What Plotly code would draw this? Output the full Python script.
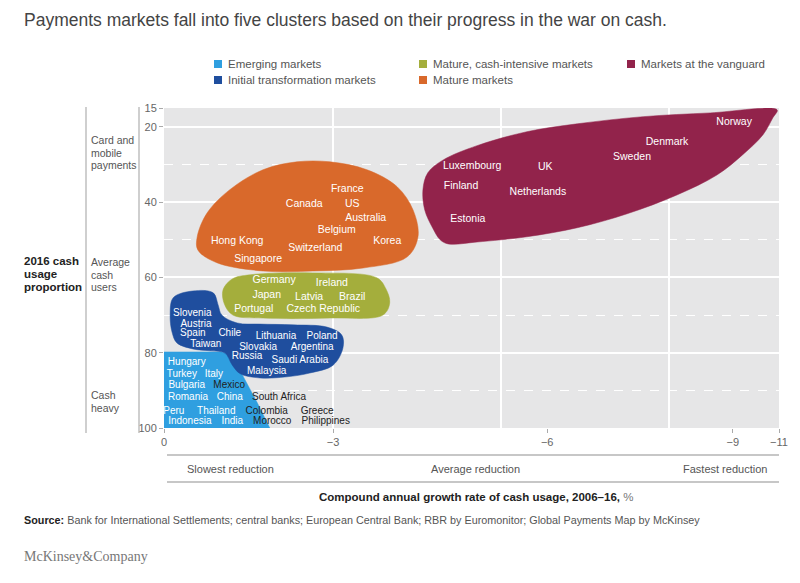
import plotly.graph_objects as go

# ---------------- data ----------------
CLUSTERS = ["Emerging markets", "Initial transformation markets",
            "Mature, cash-intensive markets", "Mature markets", "Markets at the vanguard"]
COLORS = ["#2f9fe0", "#1f4e9e", "#a4ae3c", "#d9692b", "#92234b"]

# x axis: position along the (non-linear) CAGR scale, 0..100 of the axis width
X_TICK_POS = [0, 27.5, 62.3, 92.5, 100]
X_TICK_TEXT = ["0", "\u22123", "\u22126", "\u22129", "\u221211"]
X_GRID_POS = [27.5, 54.8, 82.1]
Y_TICKS = [15, 20, 40, 60, 80, 100]
Y_DASHED = [30, 50, 70, 90]

# cluster outlines (x position, 2016 cash usage proportion)
EMERGING_X = [0, 9.4, 10.4, 11.2, 11.8, 13.2, 15.1, 17.2, 0]
EMERGING_Y = [79.8, 79.8, 80.3, 81.3, 83.0, 87.2, 93.1, 100, 100]

INITIAL_X = [1.5, 4.7, 8.0, 8.8, 9.4, 11.9, 15.6, 21.0, 26.5, 28.9, 29.1, 27.5, 23.7,
             20.0, 15.6, 12.4, 11.1, 9.9, 7.5, 4.7, 2.1, 1.3, 1.0, 1.5]
INITIAL_Y = [65.4, 63.6, 64.1, 67.3, 70.0, 72.1, 72.4, 72.6, 73.2, 75.3, 78.7, 83.3, 85.4,
             86.4, 86.7, 85.6, 83.3, 80.1, 79.5, 79.0, 77.4, 74.5, 70.0, 65.4]

CASHINT_X = [9.6, 11.1, 14.0, 24.2, 34.6, 36.1, 36.7, 35.6, 27.0, 16.1, 11.2, 9.8, 9.6]
CASHINT_Y = [63.3, 60.4, 59.3, 58.8, 60.1, 63.1, 66.8, 70.0, 70.8, 70.8, 70.0, 67.0, 63.3]

MATURE_X = [27.0, 33.0, 37.9, 40.5, 41.3, 39.5, 32.4, 24.2, 16.1, 8.6, 5.5, 5.4, 7.0,
            10.7, 16.1, 21.6, 27.0]
MATURE_Y = [29.3, 31.4, 35.9, 42.1, 49.2, 54.6, 57.5, 58.3, 58.3, 56.1, 52.7, 49.2, 42.9,
            36.7, 31.4, 29.3, 29.3]

VANGUARD_X = [99.7, 88.8, 77.9, 67.2, 59.0, 50.9, 45.4, 42.9, 42.1, 42.4, 43.6, 44.9, 46.2,
              50.9, 59.0, 67.2, 75.3, 83.4, 89.9, 94.1, 97.4, 99.0, 99.7]
VANGUARD_Y = [15.5, 16.3, 17.3, 19.2, 21.3, 25.0, 28.8, 32.2, 36.7, 42.1, 46.6, 50.0, 51.1,
              50.6, 49.2, 46.8, 43.1, 38.1, 32.8, 27.4, 22.1, 17.6, 15.5]

# market labels
EMERGING_NAMES = ["Hungary", "Turkey", "Italy", "Bulgaria", "Mexico", "Romania", "China",
                  "South Africa", "Peru", "Thailand", "Colombia", "Greece", "Indonesia",
                  "India", "Morocco", "Philippines"]
EMERGING_LX = [3.7, 2.9, 8.1, 3.7, 10.6, 3.9, 10.7, 18.7, 1.6, 8.5, 16.7, 24.9, 4.2, 11.1,
               17.6, 26.3]
EMERGING_LY = [82.7, 85.9, 85.9, 88.8, 88.8, 92.0, 92.0, 92.0, 95.5, 95.5, 95.5, 95.5, 98.4,
               98.4, 98.4, 98.4]
DARK_LABELS = ["Mexico", "South Africa", "Colombia", "Greece", "Morocco", "Philippines"]

INITIAL_NAMES = ["Slovenia", "Austria", "Spain", "Chile", "Taiwan", "Lithuania", "Poland",
                 "Slovakia", "Argentina", "Russia", "Saudi Arabia", "Malaysia"]
INITIAL_LX = [4.6, 5.2, 4.7, 10.7, 6.8, 18.2, 25.7, 15.3, 24.1, 13.5, 22.1, 16.7]
INITIAL_LY = [69.7, 72.4, 75.0, 75.0, 77.7, 75.8, 75.8, 78.5, 78.5, 81.1, 82.2, 85.1]

CASHINT_NAMES = ["Germany", "Ireland", "Japan", "Latvia", "Brazil", "Portugal", "Czech Republic"]
CASHINT_LX = [17.9, 27.3, 16.7, 23.6, 30.6, 14.6, 25.9]
CASHINT_LY = [60.9, 61.5, 64.7, 65.2, 65.2, 68.6, 68.6]

MATURE_NAMES = ["France", "Canada", "US", "Australia", "Belgium", "Hong Kong", "Korea",
                "Switzerland", "Singapore"]
MATURE_LX = [29.8, 22.8, 30.6, 32.8, 28.1, 11.9, 36.3, 24.6, 15.3]
MATURE_LY = [36.7, 40.5, 40.7, 44.2, 47.6, 50.3, 50.3, 52.2, 55.3]

VANGUARD_NAMES = ["Norway", "Denmark", "Sweden", "Luxembourg", "UK", "Finland",
                  "Netherlands", "Estonia"]
VANGUARD_LX = [92.7, 81.8, 76.1, 50.1, 62.0, 48.3, 60.8, 49.4]
VANGUARD_LY = [18.9, 24.0, 28.2, 30.6, 30.9, 35.9, 37.5, 44.5]

# ---------------- figure ----------------
FONT = "Liberation Sans, Arial, Helvetica, sans-serif"
OFF = 8                      # page body margin
W, H = 784, 567
L = 164 - OFF
T = 108 - OFF
R = W - (779 - OFF)
B = H - (428 - OFF)


def PX(px):
    return (px - OFF - L) / (W - L - R)


def PY(py):
    return (H - B - (py - OFF)) / (H - T - B)


fig = go.Figure()

outlines = [
    (EMERGING_X, EMERGING_Y, "linear"),
    (INITIAL_X, INITIAL_Y, "spline"),
    (CASHINT_X, CASHINT_Y, "spline"),
    (MATURE_X, MATURE_Y, "spline"),
    (VANGUARD_X, VANGUARD_Y, "spline"),
]
for (xs, ys, shape), name, col in zip(outlines, CLUSTERS, COLORS):
    fig.add_trace(go.Scatter(
        x=xs, y=ys, mode="lines", fill="toself", fillcolor=col,
        line=dict(color=col, width=0.5, shape=shape, smoothing=1.0),
        name=name, showlegend=False, hoverinfo="skip"))

labels = [
    (EMERGING_NAMES, EMERGING_LX, EMERGING_LY, 10),
    (INITIAL_NAMES, INITIAL_LX, INITIAL_LY, 10),
    (CASHINT_NAMES, CASHINT_LX, CASHINT_LY, 10.5),
    (MATURE_NAMES, MATURE_LX, MATURE_LY, 10.5),
    (VANGUARD_NAMES, VANGUARD_LX, VANGUARD_LY, 10.5),
]
for names, lx, ly, fs in labels:
    cols = ["#222222" if n in DARK_LABELS else "white" for n in names]
    fig.add_trace(go.Scatter(
        x=lx, y=ly, mode="text", text=names, textposition="middle center",
        textfont=dict(color=cols, size=fs, family=FONT),
        showlegend=False, hoverinfo="skip", cliponaxis=False))

ann = []
shapes = []


def text(px, py, s, size=11, color="#555", xanchor="left", bold=False, family=FONT):
    ann.append(dict(x=PX(px), y=PY(py), xref="paper", yref="paper",
                    text=("<b>%s</b>" % s) if bold else s, borderpad=0,
                    showarrow=False, xanchor=xanchor, yanchor="middle",
                    font=dict(size=size, color=color, family=family)))


# title
text(23, 20, "Payments markets fall into five clusters based on their progress in the war on cash.",
     size=17.5, color="#444")

# legend
LEG_POS = [(214, 64), (214, 80), (419, 64), (419, 80), (627, 64)]
for (lx, ly), name, col in zip(LEG_POS, CLUSTERS, COLORS):
    shapes.append(dict(type="rect", xref="paper", yref="paper",
                       x0=PX(lx), x1=PX(lx + 8), y0=PY(ly + 4), y1=PY(ly - 4),
                       fillcolor=col, line=dict(width=0)))
    text(lx + 13, ly, name, size=11.5, color="#555")

# y side labels
for i, s in enumerate(["2016 cash", "usage", "proportion"]):
    text(23, 261 + 13 * i, s, size=11.5, color="#222", bold=True)
for i, s in enumerate(["Card and", "mobile", "payments"]):
    text(90, 140 + 12.5 * i, s, size=10.5)
for i, s in enumerate(["Average", "cash", "users"]):
    text(90, 262 + 12.5 * i, s, size=10.5)
for i, s in enumerate(["Cash", "heavy"]):
    text(90, 395 + 12.5 * i, s, size=10.5)
for xx in [86, 139]:
    shapes.append(dict(type="line", xref="paper", yref="paper", x0=PX(xx), x1=PX(xx),
                       y0=PY(107), y1=PY(433), line=dict(color="#b5b5b5", width=1.3)))

# x bottom band
for yy in [455, 482]:
    shapes.append(dict(type="line", xref="paper", yref="paper", x0=PX(167), x1=PX(779),
                       y0=PY(yy), y1=PY(yy), line=dict(color="#b5b5b5", width=1.5)))
text(186, 469, "Slowest reduction", size=11)
text(475, 469, "Average reduction", size=11, xanchor="center")
text(768, 469, "Fastest reduction", size=11, xanchor="right")
ann.append(dict(x=PX(476), y=PY(497), xref="paper", yref="paper", showarrow=False,
                xanchor="center", yanchor="middle", borderpad=0,
                text="<b>Compound annual growth rate of cash usage, 2006\u201316,</b> "
                     "<span style='color:#777'>%</span>",
                font=dict(size=11.5, color="#222", family=FONT)))

# source and logo
ann.append(dict(x=PX(23), y=PY(520), xref="paper", yref="paper", showarrow=False,
                xanchor="left", yanchor="middle", borderpad=0,
                text="<b>Source:</b> <span style='color:#555'>Bank for International Settlements; "
                     "central banks; European Central Bank; RBR by Euromonitor; "
                     "Global Payments Map by McKinsey</span>",
                font=dict(size=10.8, color="#222", family=FONT)))
text(23, 556, "McKinsey&amp;Company", size=14, color="#777",
     family="Liberation Serif, Times New Roman, serif")

fig.update_layout(
    width=W, height=H, autosize=False,
    margin=dict(l=L, r=R, t=T, b=B, pad=0, autoexpand=False),
    paper_bgcolor="white", plot_bgcolor="#e6e6e7",
    font=dict(family=FONT, size=11, color="#555"),
    annotations=ann, shapes=shapes, showlegend=False,
    xaxis=dict(range=[0, 100], tickvals=X_TICK_POS, ticktext=X_TICK_TEXT,
               ticks="outside", ticklen=4, tickcolor="#aaa", tickwidth=1,
               showgrid=False, zeroline=False, showline=False, automargin=False,
               tickfont=dict(size=11, color="#666"),
               minor=dict(tickvals=X_GRID_POS, showgrid=True, gridcolor="white",
                          gridwidth=1.5, ticks=""),
               fixedrange=True),
    yaxis=dict(range=[100, 15], tickvals=Y_TICKS, ticktext=[str(v) for v in Y_TICKS],
               ticks="outside", ticklen=4, tickcolor="#aaa", tickwidth=1,
               showgrid=True, gridcolor="white", gridwidth=1.5, automargin=False,
               zeroline=False, showline=False,
               tickfont=dict(size=11, color="#666"),
               minor=dict(tickvals=Y_DASHED, showgrid=True, gridcolor="white",
                          gridwidth=1, griddash="dash", ticks=""),
               fixedrange=True),
)

fig.write_html("out.html")
